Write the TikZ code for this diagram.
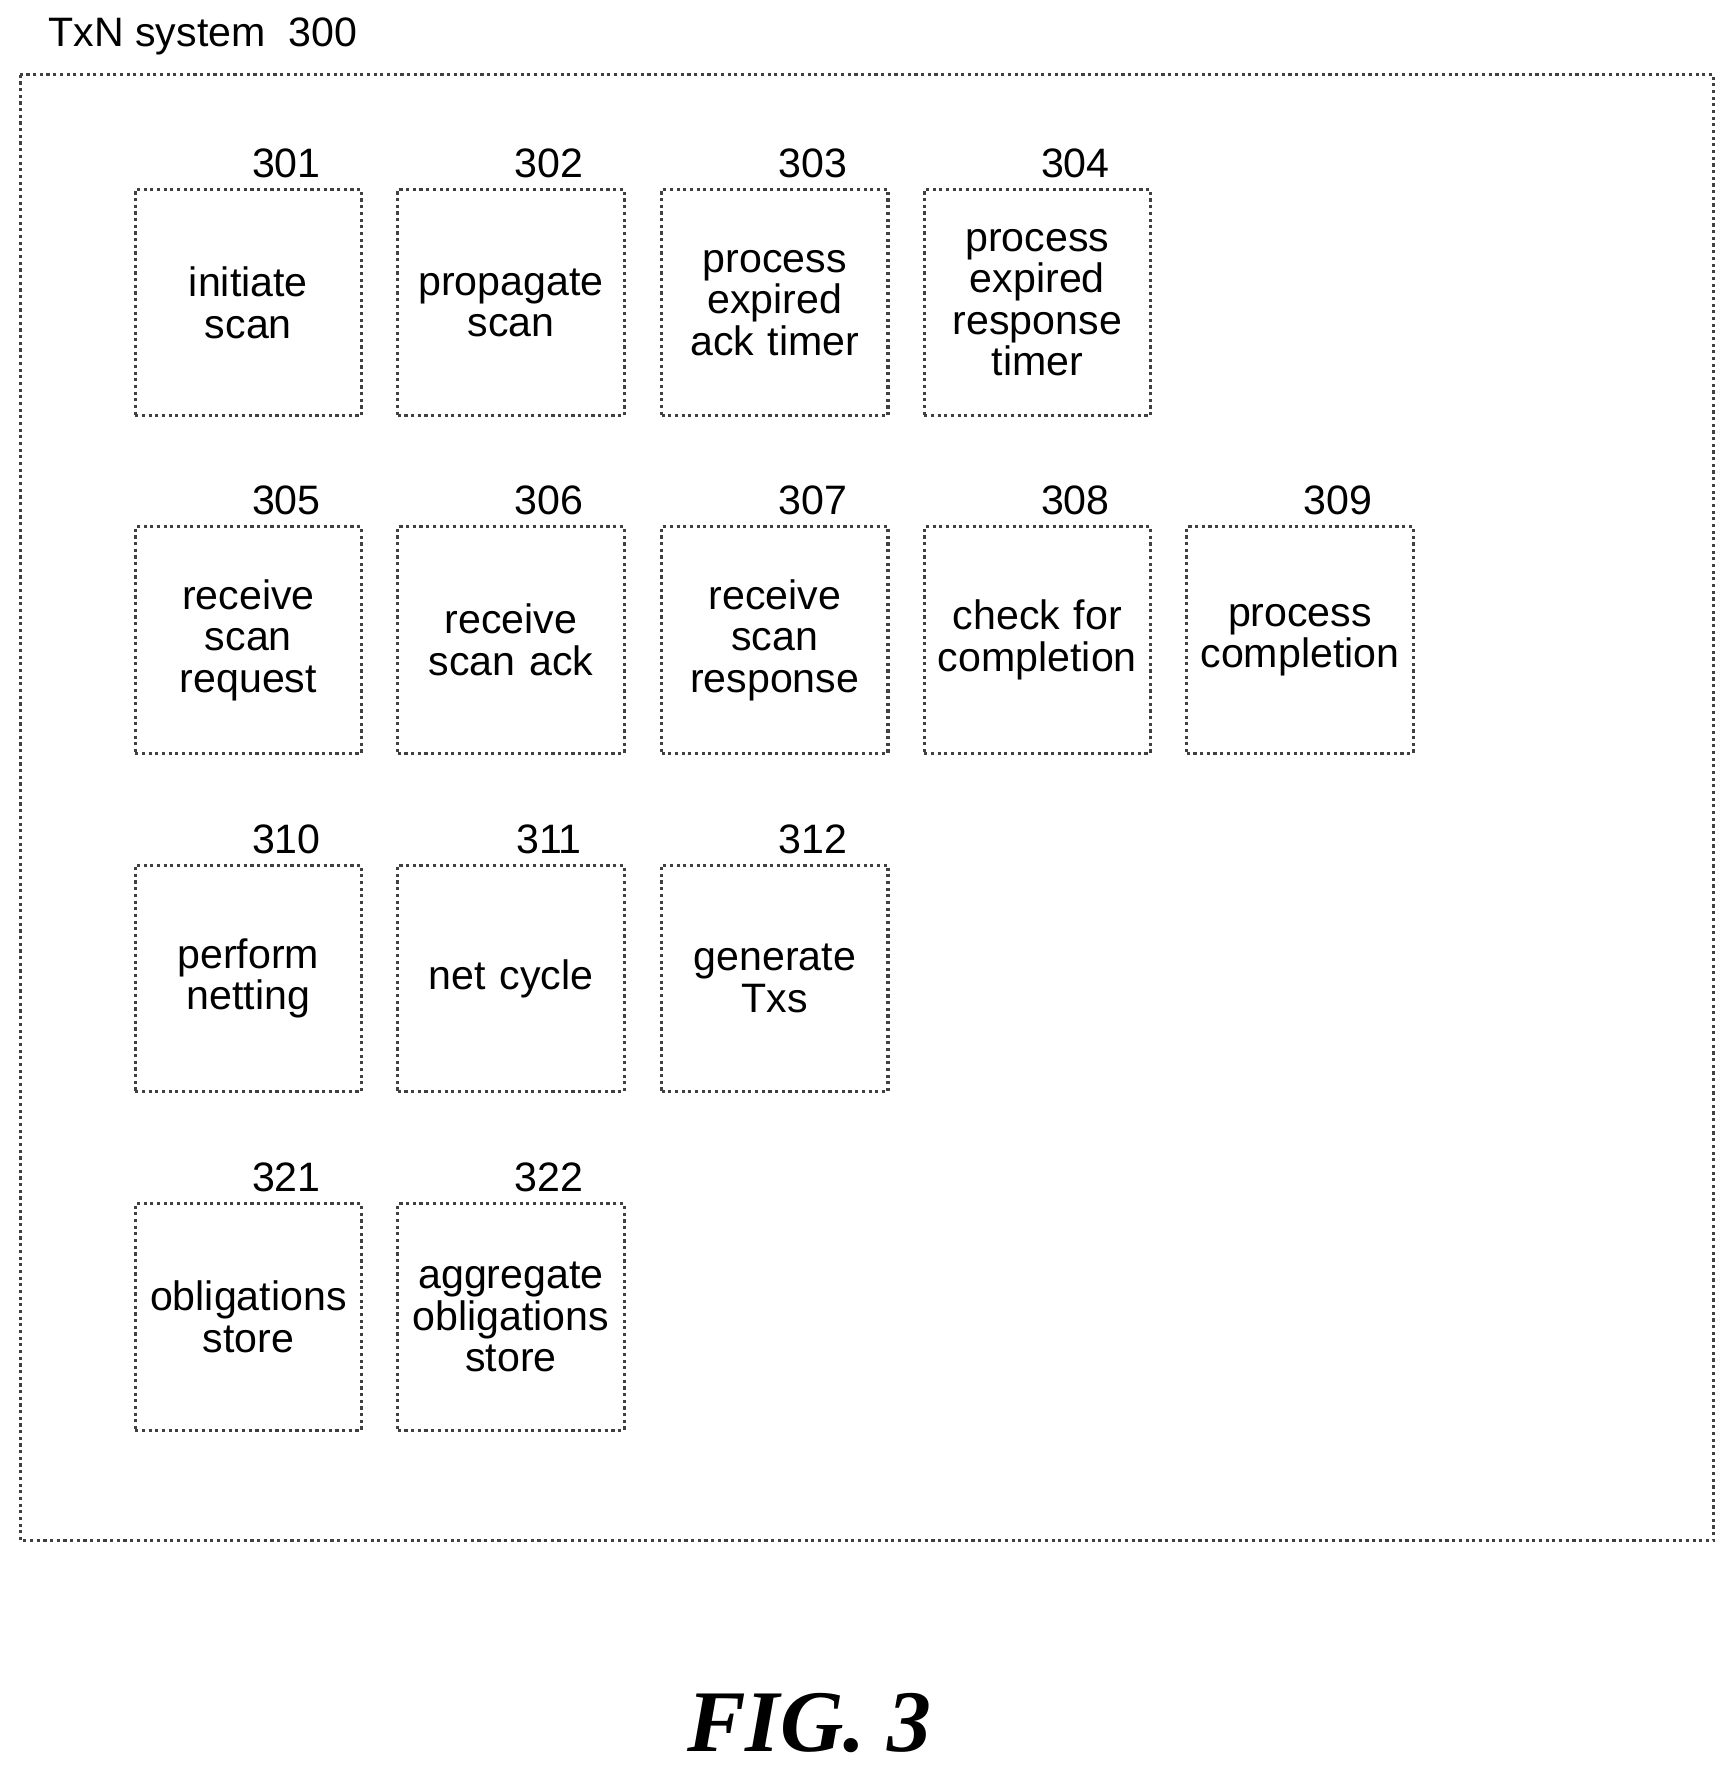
\documentclass[tikz,border=0pt]{standalone}
\usepackage{fontspec}
\setmainfont{Liberation Sans}
\newfontfamily\figfont{Liberation Serif}
\begin{document}
\begin{tikzpicture}[x=0.01132cm,y=-0.01132cm,
  bx/.style={draw=black!75,densely dotted,line width=0.9pt,minimum width=200*0.01132cm,minimum height=200*0.01132cm,anchor=north west,inner sep=0pt,align=center,font=\fontsize{11.7}{11.8}\selectfont,text width=190*0.01132cm},
  num/.style={font=\fontsize{11.7}{14}\selectfont,anchor=south}]
\useasboundingbox (0,0) rectangle (1530,1564.5);
\node[font=\fontsize{11.7}{14}\selectfont,anchor=west] (title) at (32,32) {TxN system\ \ 300};
\draw[black!75,densely dotted,line width=0.9pt] (18,66) rectangle (1514,1361);
\newcommand\B[5]{\node[bx] (b#3) at (#1,#2) {#4};\node[num] (n#3) at (#1+135,#2+2) {#3};}
\B{118}{166}{301}{initiate\\scan}{}
\B{350}{166}{302}{propagate\\scan}{}
\B{583}{166}{303}{process\\expired\\ack timer}{}
\B{815}{166}{304}{process\\expired\\response\\timer}{}
\B{118}{464}{305}{receive\\scan\\request}{}
\B{350}{464}{306}{receive\\scan ack}{}
\B{583}{464}{307}{receive\\scan\\response}{}
\B{815}{464}{308}{check for\\completion}{}
\B{1047}{464}{309}{process\\completion}{}
\B{118}{763}{310}{perform\\netting}{}
\B{350}{763}{311}{net cycle}{}
\B{583}{763}{312}{generate\\Txs}{}
\B{118}{1062}{321}{obligations\\store}{}
\B{350}{1062}{322}{aggregate\\obligations\\store}{}
\node[font=\figfont\bfseries\itshape\fontsize{25}{28}\selectfont] (fig) at (715,1522) {FIG. 3};
\end{tikzpicture}
\end{document}
